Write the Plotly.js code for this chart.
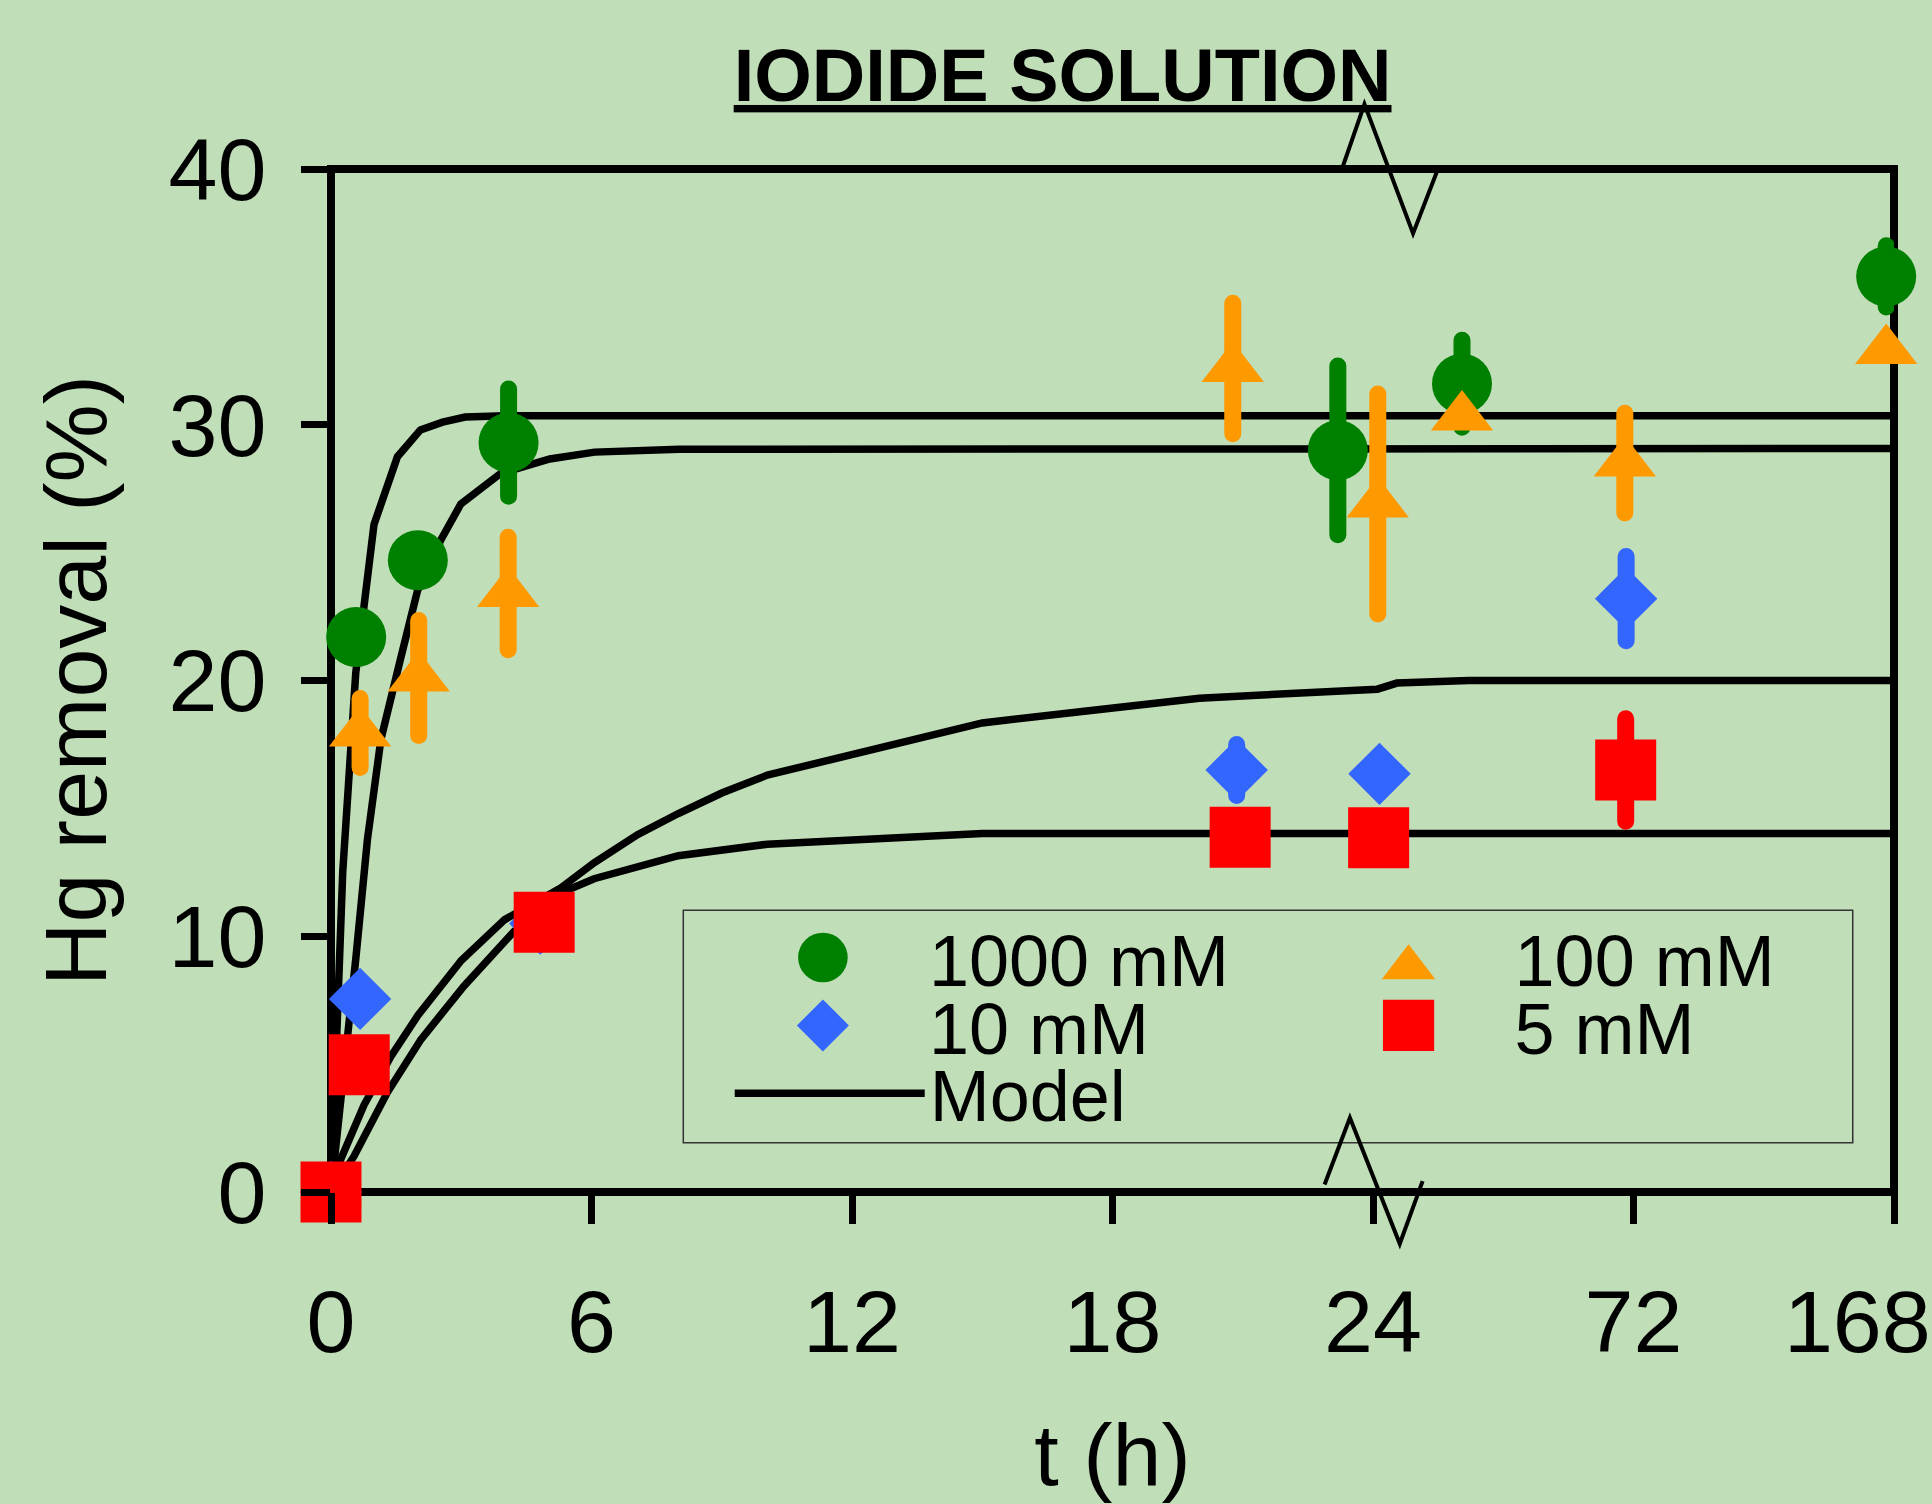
<!DOCTYPE html>
<html>
<head>
<meta charset="utf-8">
<script src="https://cdn.plot.ly/plotly-3.0.1.min.js"></script>
<style>
  html, body { margin: 0; padding: 0; background: rgb(192,222,184); }
  #chart { width: 1932px; height: 1504px; }
  /* plotly caps legend symbols at 16 px: enlarge them to match the reference */
  #chart g.legend  .legendpoints path.scatterpts { transform: translate(106px, 0px) scale(3.1); }
  #chart g.legend2 .legendpoints path.scatterpts { transform: translate(106px, 10px) scale(2.9); }
  #chart g.legend3 .legendpoints path.scatterpts { transform: translate(106px, 0px) scale(2.5); }
  #chart g.legend4 .legendpoints path.scatterpts { transform: translate(106px, 0px) scale(3.2); }
  #chart g.errorbar path { stroke-linecap: round; }
</style>
</head>
<body>
<div id="chart"></div>
<script>
// ---------- DATA ----------
// x values are positions on the broken time axis (0-24 h linear, then 72 h and 168 h at compressed positions)
const xTickPos  = [0, 6, 12, 18, 24, 30, 36];
const xTickText = ['0', '6', '12', '18', '24', '72', '168&nbsp;&nbsp;&nbsp;'];
const yTickVals = [0, 10, 20, 30, 40];

const seriesNames = ['1000 mM', '100 mM', '10 mM', '5 mM', 'Model'];

const x1000 = [0, 0.58, 2.0, 4.09, 23.19, 26.05, 35.82];
const y1000 = [0, 21.7, 24.7, 29.3, 29.0, 31.6, 35.8];
const e1000 = [0, 0, 0, 2.1, 3.3, 1.7, 1.2];

const x100 = [0, 0.67, 2.02, 4.08, 20.77, 24.11, 26.05, 29.8, 35.82];
const y100 = [0, 17.95, 20.1, 23.4, 32.2, 26.9, 30.3, 28.5, 32.9];
const e100 = [0, 1.35, 2.25, 2.2, 2.55, 4.3, 0, 1.95, 0];

const x10 = [0, 0.67, 4.82, 20.86, 24.15, 29.83];
const y10 = [0, 7.55, 10.5, 16.5, 16.35, 23.2];
const e10 = [0, 0, 0, 1.0, 0, 1.65];

const x5 = [0, 0.65, 4.91, 20.94, 24.13, 29.82];
const y5 = [0, 4.98, 10.55, 13.87, 13.85, 16.5];
const e5 = [0, 0, 0, 0, 0, 2.0];

// model curves
const modelAx = [0, 0.09, 0.19, 0.27, 0.42, 0.57, 0.76, 0.99, 1.53, 2.06, 2.57, 3.09, 4.0, 36];
const modelAy = [0, 4.9, 9.1, 12.5, 16.4, 20.3, 22.9, 26.1, 28.75, 29.8, 30.1, 30.3, 30.35, 30.35];
const modelBx = [0, 0.32, 0.57, 0.84, 1.15, 1.61, 1.99, 2.53, 2.99, 3.91, 5.04, 6.07, 8.02, 36];
const modelBy = [0, 4.9, 9.1, 13.8, 17.7, 20.9, 23.5, 25.5, 26.9, 28.1, 28.66, 28.93, 29.04, 29.07];
const modelCx = [0, 0.23, 0.76, 1.38, 2.0, 3.0, 4.0, 5.3, 6.06, 7.06, 8.0, 9.0, 10.05, 13.1, 15.0, 17.3, 20.0, 24.1, 24.55, 26.2, 36];
const modelCy = [0, 1.3, 3.4, 5.3, 6.9, 9.05, 10.65, 11.9, 12.87, 13.97, 14.8, 15.6, 16.3, 17.55, 18.34, 18.79, 19.31, 19.66, 19.9, 20.0, 20.0];
const modelDx = [0, 0.53, 1.3, 2.07, 3.06, 4.22, 5.34, 6.06, 8.0, 10.05, 15.0, 36];
const modelDy = [0, 1.4, 3.9, 5.96, 8.05, 10.2, 11.73, 12.25, 13.15, 13.6, 14.02, 14.02];

// ---------- STYLE ----------
const FONT = 'Liberation Sans, Arial, Helvetica, sans-serif';
const BG = 'rgb(192,222,184)';
const GREEN = '#008000', ORANGE = '#ff9900', BLUE = '#3366ff', RED = '#ff0000';

function modelTrace(x, y, first) {
  return {
    x: x, y: y, type: 'scatter', mode: 'lines',
    name: seriesNames[4], legend: 'legend5', showlegend: first,
    line: {color: 'black', width: 7.5},
    hoverinfo: 'skip'
  };
}
function pointTrace(x, y, e, name, legendId, symbol, size, color) {
  return {
    x: x, y: y, type: 'scatter', mode: 'markers', name: name, legend: legendId,
    cliponaxis: false,
    marker: {symbol: symbol, size: size, color: color, line: {width: 0}},
    error_y: {type: 'data', array: e, visible: true, color: color, thickness: 17, width: 0}
  };
}

const traces = [
  modelTrace(modelAx, modelAy, true),
  modelTrace(modelBx, modelBy, false),
  modelTrace(modelCx, modelCy, false),
  modelTrace(modelDx, modelDy, false),
  pointTrace(x1000, y1000, e1000, seriesNames[0], 'legend',  'circle',      60, GREEN),
  pointTrace(x100,  y100,  e100,  seriesNames[1], 'legend2', 'triangle-up', 54, ORANGE),
  pointTrace(x10,   y10,   e10,   seriesNames[2], 'legend3', 'diamond',     48, BLUE),
  pointTrace(x5,    y5,    e5,    seriesNames[3], 'legend4', 'square',      61, RED)
];

function legendAt(x, y, w) {
  return {
    x: x, y: y, xanchor: 'left', yanchor: 'top', orientation: 'v',
    bgcolor: 'rgba(0,0,0,0)', borderwidth: 0, itemwidth: w,
    font: {family: FONT, size: 72, color: 'black'}
  };
}

const layout = {
  width: 1932, height: 1504,
  paper_bgcolor: BG, plot_bgcolor: BG,
  margin: {l: 331, r: 38, t: 169, b: 311.5, pad: 0},
  font: {family: FONT, color: 'black'},
  showlegend: true,
  title: {
    text: '<u>IODIDE SOLUTION</u>',
    font: {family: FONT, size: 74, weight: 700, color: 'black'},
    x: 0.55, xref: 'container', xanchor: 'center',
    y: 0.9673, yref: 'container', yanchor: 'top'
  },
  xaxis: {
    range: [0, 36], tickmode: 'array', tickvals: xTickPos, ticktext: xTickText,
    ticks: 'outside', ticklen: 31, tickwidth: 7, tickcolor: 'black',
    showline: false, showgrid: false, zeroline: false,
    tickfont: {family: FONT, size: 88, color: 'black'},
    ticklabelstandoff: 22, ticklabeloverflow: 'allow', automargin: false,
    title: {text: 't (h)', font: {family: FONT, size: 88, color: 'black'}, standoff: 95}
  },
  yaxis: {
    range: [0, 40], tickmode: 'array', tickvals: yTickVals,
    ticks: 'outside', ticklen: 29, tickwidth: 7, tickcolor: 'black',
    showline: false, showgrid: false, zeroline: false,
    tickfont: {family: FONT, size: 88, color: 'black'},
    ticklabelstandoff: 17, automargin: false,
    title: {text: 'Hg removal (%)', font: {family: FONT, size: 88, color: 'black'}, standoff: 32}
  },
  legend:  legendAt(0.2469, 0.2813, 202),
  legend2: legendAt(0.6216, 0.2813, 202),
  legend3: legendAt(0.2469, 0.2149, 202),
  legend4: legendAt(0.6216, 0.2149, 202),
  legend5: legendAt(0.2551, 0.1487, 190),
  shapes: [
    // plot frame
    {type: 'rect', xref: 'paper', yref: 'paper', x0: 0, x1: 1, y0: 0, y1: 1,
     line: {color: 'black', width: 8}, layer: 'below'},
    // legend box
    {type: 'rect', xref: 'paper', yref: 'paper', x0: 0.2254, x1: 0.9736, y0: 0.0481, y1: 0.2753,
     line: {color: '#333333', width: 1.5}, layer: 'below'},
    // axis break marks
    {type: 'path', xref: 'paper', yref: 'paper', layer: 'above',
     path: 'M0.6468,1.0 L0.6612,1.0635 L0.6923,0.9370 L0.7076,0.9976',
     line: {color: 'black', width: 4}},
    {type: 'path', xref: 'paper', yref: 'paper', layer: 'above',
     path: 'M0.6357,0.0073 L0.6519,0.0725 L0.6838,-0.0506 L0.6984,0.0106',
     line: {color: 'black', width: 4}}
  ]
};

Plotly.newPlot('chart', traces, layout, {displayModeBar: false, staticPlot: true});
</script>
</body>
</html>
